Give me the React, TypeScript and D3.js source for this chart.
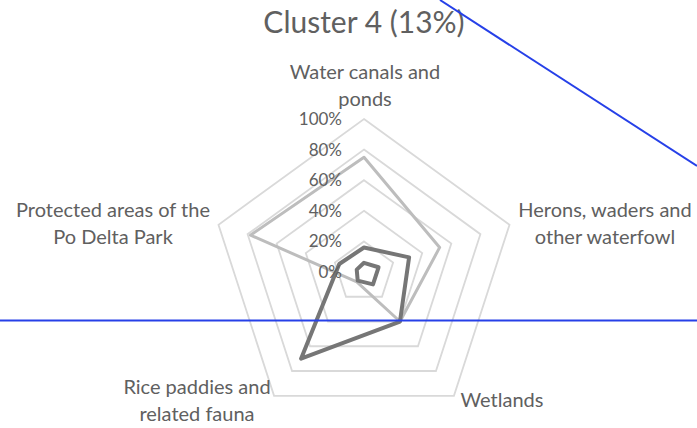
import React from "react";
import * as d3 from "d3";

const title = "Cluster 4 (13%)";
const categories = [
  "Water canals and ponds",
  "Herons, waders and other waterfowl",
  "Wetlands",
  "Rice paddies and related fauna",
  "Protected areas of the Po Delta Park",
];
const categoryLines = [
  ["Water canals and", "ponds"],
  ["Herons, waders and", "other waterfowl"],
  ["Wetlands"],
  ["Rice paddies and", "related fauna"],
  ["Protected areas of the", "Po Delta Park"],
];
const seriesLight = [75, 52, 40, 8, 78];
const seriesDark = [16, 31, 40, 70, 17];
const seriesInner = [6, 10, 10, 7, 5];
const ticks = [0, 20, 40, 60, 80, 100];
const tickLabels = ["0%", "20%", "40%", "60%", "80%", "100%"];

const W = 697;
const H = 428;
const cx = 364;
const cy = 272;
const R = 153;
const FONT = "Lato, 'Open Sans', sans-serif";
const TEXT = "#606060";

// label anchor positions (layout)
const labelPos = [
  { x: 365, y: 72 },
  { x: 605, y: 210 },
  { x: 502, y: 400 },
  { x: 197, y: 387 },
  { x: 113, y: 210 },
];

export default function App() {
  const r = d3.scaleLinear().domain([0, 100]).range([0, R]);
  const n = categories.length;
  const angle = (i: number) => (i * 2 * Math.PI) / n;
  const line = d3
    .lineRadial<number>()
    .angle((_, i) => angle(i))
    .radius((d) => r(d))
    .curve(d3.curveLinearClosed);
  const ring = (v: number) => line(categories.map(() => v)) as string;

  return (
    <svg
      width={W}
      height={H}
      style={{ position: "absolute", left: 0, top: 0, background: "#fff" }}
    >
      <rect width={W} height={H} fill="#fff" />
      <text
        x={364}
        y={33}
        textAnchor="middle"
        fontFamily={FONT}
        fontSize={30}
        fill={TEXT}
      >
        {title}
      </text>
      <g transform={`translate(${cx},${cy})`}>
        {ticks
          .filter((t) => t > 0)
          .map((t) => (
            <path
              key={t}
              d={ring(t)}
              fill="none"
              stroke="#d9d9d9"
              strokeWidth={1.8}
            />
          ))}
        <path d={line(seriesLight) as string} fill="none" stroke="#bdbdbd" strokeWidth={3} strokeLinejoin="round" />
        <path d={line(seriesDark) as string} fill="none" stroke="#767676" strokeWidth={4} strokeLinejoin="round" />
        <path d={line(seriesInner) as string} fill="none" stroke="#767676" strokeWidth={4} strokeLinejoin="round" />
        {ticks.map((t, i) => (
          <text
            key={t}
            x={-22}
            y={-r(t)}
            dy="0.35em"
            textAnchor="end"
            fontFamily={FONT}
            fontSize={17}
            fill={TEXT}
          >
            {tickLabels[i]}
          </text>
        ))}
      </g>
      {categoryLines.map((lines, i) => (
        <text
          key={i}
          x={labelPos[i].x}
          y={labelPos[i].y}
          textAnchor="middle"
          fontFamily={FONT}
          fontSize={20}
          fill={TEXT}
        >
          {lines.map((l, j) => (
            <tspan key={j} x={labelPos[i].x} dy={j === 0 ? "0.35em" : 27}>
              {l}
            </tspan>
          ))}
        </text>
      ))}
      <line x1={440} y1={0} x2={697} y2={166} stroke="#2640e8" strokeWidth={2} />
      <line x1={0} y1={320.5} x2={697} y2={320.5} stroke="#2640e8" strokeWidth={2} />
    </svg>
  );
}
